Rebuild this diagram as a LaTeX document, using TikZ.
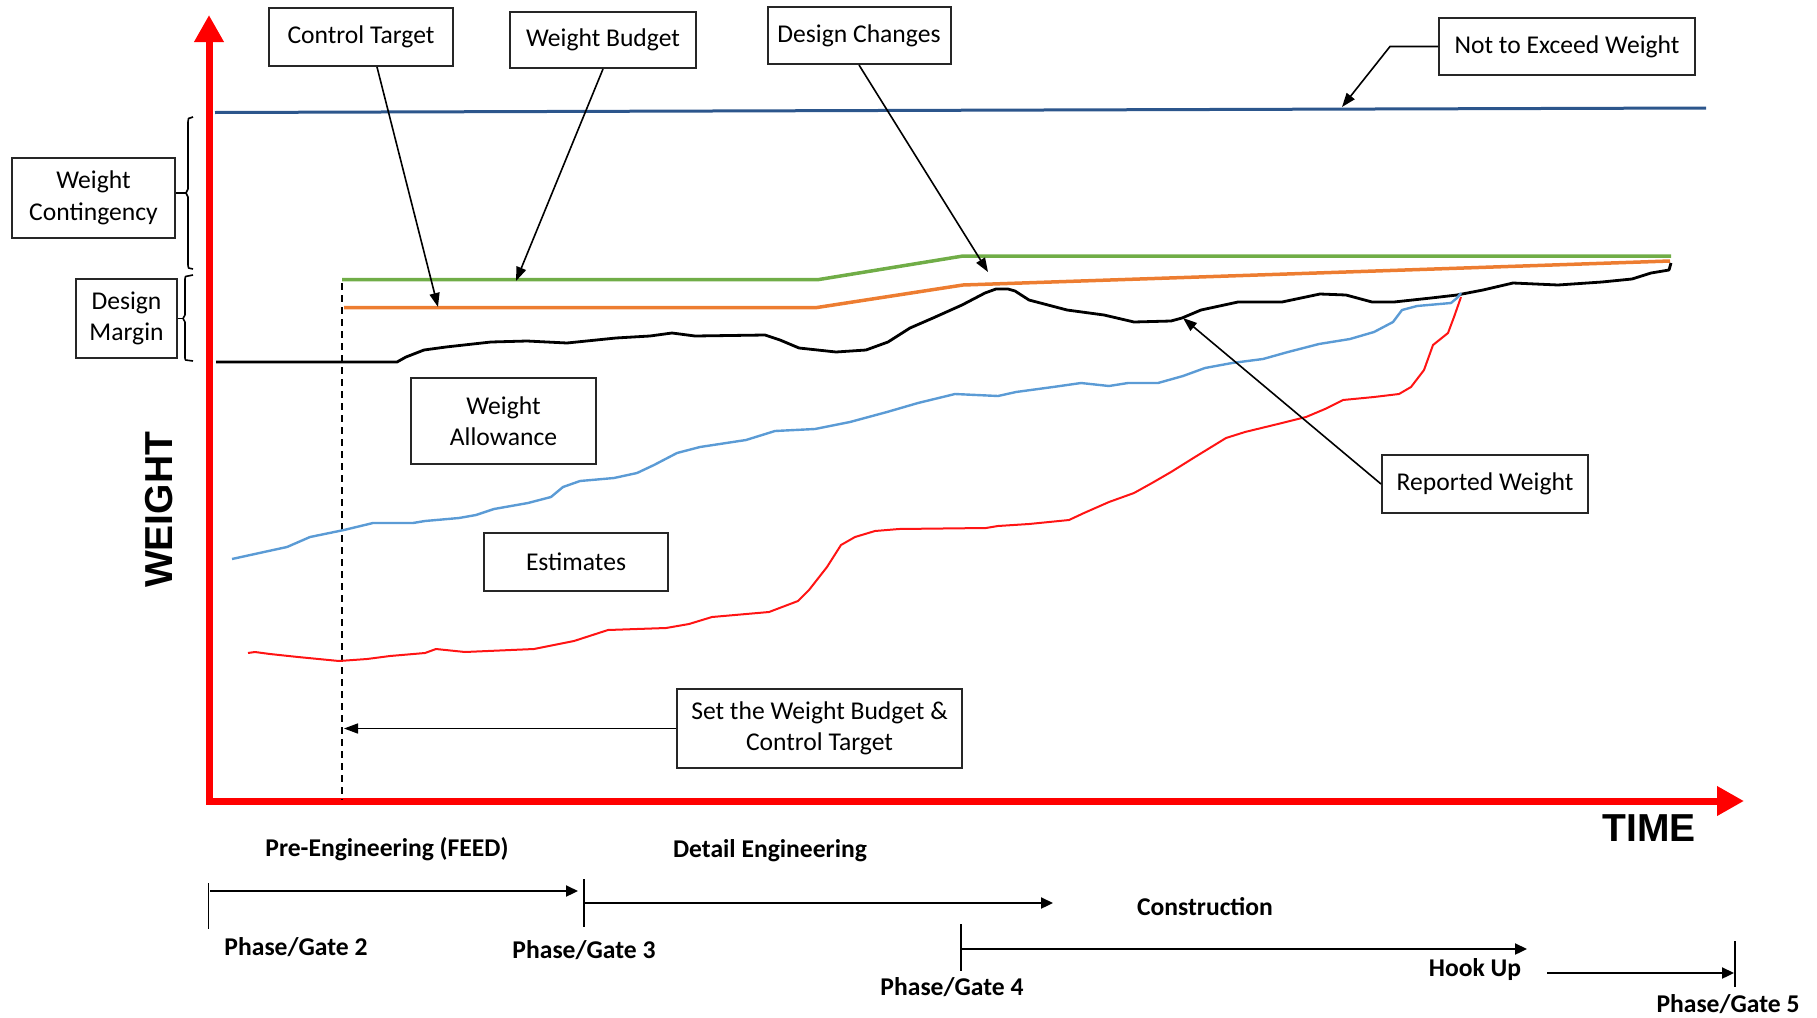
\documentclass[tikz,border=0pt]{standalone}
\usepackage{fontspec}
\setmainfont{Carlito}
\newfontfamily\axisfont{Liberation Sans}
\usetikzlibrary{arrows.meta}
\definecolor{axisred}{RGB}{255,0,0}
\definecolor{ntblue}{RGB}{44,86,140}
\definecolor{budgetgreen}{RGB}{112,173,71}
\definecolor{targetorange}{RGB}{237,125,49}
\definecolor{allowblue}{RGB}{91,155,213}
\definecolor{estred}{RGB}{255,20,20}
\begin{document}
\begin{tikzpicture}[x=1pt,y=-1pt,
  box/.style={draw=black!85, line width=2pt, inner sep=0pt, align=center, fill=white,
    font=\fontsize{25.6}{31.5}\selectfont},
  conn/.style={draw=black, line width=1.6pt, -{Triangle[length=14pt,width=10pt]}},
  phase/.style={font=\fontsize{25.6}{31}\selectfont\bfseries, inner sep=0pt},
  gatetick/.style={line width=1.6pt},
  tline/.style={line width=2.2pt, -{Triangle[length=12pt,width=11pt]}},
  bracestyle/.style={line width=1.6pt, line join=round},
  axislabel/.style={font={\axisfont\bfseries\fontsize{39}{44}\selectfont}, inner sep=0pt}
]
\useasboundingbox (0,0) rectangle (1817,1017);

% axes
\draw[line width=7pt, axisred, line join=miter,
  {Triangle[length=27pt,width=28pt]}-{Triangle[length=27pt,width=28pt]}]
  (209,15) -- (209,801) -- (1744,801);

% not to exceed line
\draw[ntblue, line width=3pt] (215,112.5) -- (1706,108);
% weight budget
\draw[budgetgreen, line width=3.5pt] (342,279.5) -- (819,279.5) -- (963,256) -- (1671,256);
% control target
\draw[targetorange, line width=3.5pt] (344,307.5) -- (817,307.5) -- (963,285) -- (1670,261);

% dashed marker
\draw[line width=1.5pt, dash pattern=on 7pt off 5pt] (342,283) -- (342,800);

% reported weight
\draw[black, line width=2.8pt, line join=round]
 (216,362) -- (397,362) -- (406,357) -- (424,350) -- (446,347) -- (491,342) -- (527,341) -- (567,343)
 -- (616,338) -- (650,336) -- (672,333) -- (695,336) -- (765,335) -- (780,340) -- (799,348) -- (836,352)
 -- (866,350) -- (888,342) -- (910,328) -- (933,318) -- (962,305) -- (985,293) -- (996,289) -- (1008,289) -- (1015,291)
 -- (1029,300) -- (1067,310) -- (1104,315) -- (1134,322) -- (1171,321) -- (1182,318) -- (1201,310)
 -- (1238,302) -- (1282,302) -- (1320,294) -- (1346,295) -- (1372,302) -- (1394,302) -- (1431,298)
 -- (1457,295) -- (1483,290) -- (1513,283) -- (1558,285) -- (1602,282) -- (1632,279) -- (1651,273)
 -- (1669,270) -- (1671,263);

% weight allowance (blue)
\draw[allowblue, line width=2.4pt, line join=round]
 (232,559) -- (264,552) -- (287,547) -- (310,537) -- (344,530) -- (373,523) -- (413,523) -- (425,521)
 -- (459,518) -- (476,515) -- (494,509) -- (528,503) -- (551,497) -- (563,487) -- (580,481) -- (614,478)
 -- (637,473) -- (654,465) -- (677,453) -- (700,447) -- (746,440) -- (775,431) -- (815,429) -- (850,422)
 -- (887,412) -- (918,403) -- (955,394) -- (998,396) -- (1016,392) -- (1053,387) -- (1081,383) -- (1109,386)
 -- (1128,383) -- (1158,383) -- (1183,376) -- (1205,368) -- (1232,363) -- (1263,359) -- (1288,352)
 -- (1319,344) -- (1350,339) -- (1374,332) -- (1393,322) -- (1402,310) -- (1417,306) -- (1451,303)
 -- (1457,298) -- (1461,293);

% estimates (red)
\draw[estred, line width=2pt, line join=round]
 (248,653) -- (255,652) -- (270,654) -- (298,657) -- (339,661) -- (367,659) -- (390,656) -- (425,653)
 -- (436,649) -- (465,652) -- (534,649) -- (574,641) -- (608,630) -- (666,628) -- (689,624) -- (712,617)
 -- (769,612) -- (798,601) -- (809,590) -- (827,567) -- (841,545) -- (855,537) -- (875,531) -- (899,529)
 -- (986,528) -- (998,526) -- (1029,524) -- (1069,520) -- (1084,513) -- (1109,502) -- (1134,493)
 -- (1152,483) -- (1171,472) -- (1195,457) -- (1226,438) -- (1245,432) -- (1282,423) -- (1306,417)
 -- (1325,409) -- (1343,400) -- (1374,397) -- (1399,394) -- (1411,387) -- (1424,370) -- (1433,345)
 -- (1448,333) -- (1454,317) -- (1461,297);

% boxes
\node[box, minimum width=184pt, minimum height=58pt] (ct) at (361,37) {Control Target};
\node[box, minimum width=186pt, minimum height=56pt] (wb) at (603,40) {Weight Budget};
\node[box, minimum width=183pt, minimum height=57pt] (dc) at (859,35.5) {Design Changes};
\node[box, minimum width=256pt, minimum height=57pt] (ntew) at (1567,46.5) {Not to Exceed Weight};
\node[box, minimum width=163pt, minimum height=80pt] (wc) at (93.5,198) {Weight\\Contingency};
\node[box, minimum width=101pt, minimum height=79pt] (dm) at (126.5,318.5) {Design\\Margin};
\node[box, minimum width=185pt, minimum height=86pt] (wa) at (503.5,421) {Weight\\Allowance};
\node[box, minimum width=184pt, minimum height=58pt] (est) at (576,562) {Estimates};
\node[box, minimum width=285pt, minimum height=79pt] (swb) at (819.5,728.5) {Set the Weight Budget \&\\Control Target};
\node[box, minimum width=206pt, minimum height=58pt] (rw) at (1485,484) {Reported Weight};

% arrow targets
\coordinate (ctTip) at (438,307);
\coordinate (wbTip) at (516,281);
\coordinate (dcTip) at (988,272);
\coordinate (ntBend) at (1390,46.5);
\coordinate (ntTip) at (1342,107);
\coordinate (rwTip) at (1183,318);
\coordinate (swbTip) at (344,728.5);

\draw[conn] ([xshift=16pt]ct.south) -- (ctTip);
\draw[conn] (wb.south) -- (wbTip);
\draw[conn] (dc.south) -- (dcTip);
\draw[conn] (ntew.west) -- (ntBend) -- (ntTip);
\draw[conn] (rw.west) -- (rwTip);
\draw[conn] (swb.west) -- (swbTip);

% braces
\draw[bracestyle] (193,117) -- (188.5,118.5) -- (188,122) -- (188,189) -- (186,193) -- (188,197) -- (188,265) -- (188.5,268) -- (193,269);
\draw[bracestyle] ([yshift=5pt]wc.east) -- (186,193);
\draw[bracestyle] (193,275) -- (185.5,276.5) -- (185,279) -- (185,315) -- (183,318.5) -- (185,322) -- (185,358) -- (185.5,360) -- (193,361);
\draw[bracestyle] (dm.east) -- (183,318.5);

% axis labels
\node[axislabel, rotate=90] (wlab) at (159,510) {WEIGHT};
\node[axislabel] (tlab) at (1649,828) {TIME};

% timeline
\coordinate (g2top) at (208.5,883); \coordinate (g2bot) at (208.5,929);
\coordinate (g3top) at (584,879);   \coordinate (g3bot) at (584,927);
\coordinate (g4top) at (961,924);   \coordinate (g4bot) at (961,971);
\coordinate (g5top) at (1735,941);  \coordinate (g5bot) at (1735,987);
\draw[gatetick] (g2top) -- (g2bot);
\draw[gatetick] (g3top) -- (g3bot);
\draw[gatetick] (g4top) -- (g4bot);
\draw[gatetick] (g5top) -- (g5bot);
\coordinate (a1s) at (210,891);  \coordinate (a1e) at (578,891);
\coordinate (a2s) at (585,903);  \coordinate (a2e) at (1053,903);
\coordinate (a3s) at (962,949);  \coordinate (a3e) at (1527,949);
\coordinate (a4s) at (1547,973); \coordinate (a4e) at (1734,973);
\draw[tline] (a1s) -- (a1e);
\draw[tline] (a2s) -- (a2e);
\draw[tline] (a3s) -- (a3e);
\draw[tline] (a4s) -- (a4e);

\node[phase] (pre) at (387,849) {Pre-Engineering (FEED)};
\node[phase] (det) at (770,851) {Detail Engineering};
\node[phase] (con) at (1205,907) {Construction};
\node[phase] (hook) at (1475,970) {Hook Up};
\node[phase] (pg2) at (296,947) {Phase/Gate 2};
\node[phase] (pg3) at (584,950) {Phase/Gate 3};
\node[phase] (pg4) at (952,987) {Phase/Gate 4};
\node[phase] (pg5) at (1728,1004) {Phase/Gate 5};
\end{tikzpicture}
\end{document}
